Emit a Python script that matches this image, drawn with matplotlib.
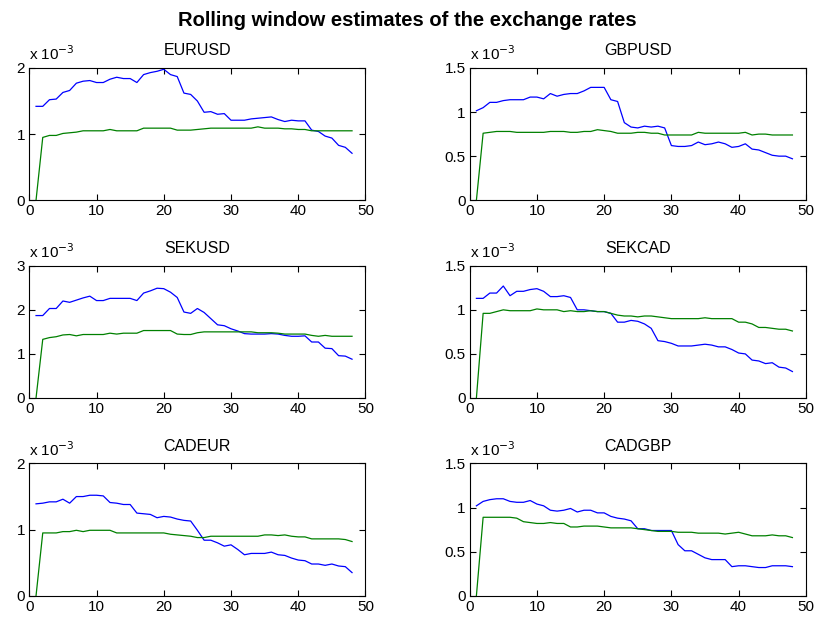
import numpy as np
import matplotlib
matplotlib.use("Agg")
import matplotlib.pyplot as plt
from matplotlib.ticker import FuncFormatter

plt.rcParams["font.family"] = ["Liberation Sans", "DejaVu Sans"]

# window index
x = np.arange(1, 49)

titles = ["EURUSD", "GBPUSD", "SEKUSD", "SEKCAD", "CADEUR", "CADGBP"]
ylims = [2.0, 1.5, 3.0, 1.5, 2.0, 1.5]
yticks = [[0, 1, 2], [0, 0.5, 1, 1.5], [0, 1, 2, 3],
          [0, 0.5, 1, 1.5], [0, 1, 2], [0, 0.5, 1, 1.5]]

# values in units of 1e-3
eurusd_blue = [1.42, 1.42, 1.52, 1.53, 1.63, 1.66, 1.77, 1.80, 1.81, 1.78,
               1.78, 1.83, 1.86, 1.84, 1.84, 1.78, 1.90, 1.93, 1.95, 1.98,
               1.90, 1.87, 1.62, 1.60, 1.50, 1.33, 1.34, 1.30, 1.31, 1.21,
               1.21, 1.21, 1.23, 1.24, 1.25, 1.26, 1.22, 1.19, 1.21, 1.20,
               1.20, 1.06, 1.04, 0.97, 0.94, 0.83, 0.80, 0.71]
eurusd_green = [0.00, 0.95, 0.98, 0.98, 1.01, 1.02, 1.03, 1.05, 1.05, 1.05,
                1.05, 1.07, 1.05, 1.05, 1.05, 1.05, 1.09, 1.09, 1.09, 1.09,
                1.09, 1.06, 1.06, 1.06, 1.07, 1.08, 1.09, 1.09, 1.09, 1.09,
                1.09, 1.09, 1.09, 1.11, 1.09, 1.09, 1.09, 1.08, 1.08, 1.07,
                1.07, 1.05, 1.05, 1.05, 1.05, 1.05, 1.05, 1.05]

gbpusd_blue = [1.015, 1.05, 1.11, 1.11, 1.13, 1.14, 1.14, 1.14, 1.17, 1.17,
               1.15, 1.21, 1.18, 1.20, 1.21, 1.21, 1.24, 1.28, 1.28, 1.28,
               1.14, 1.12, 0.88, 0.83, 0.82, 0.84, 0.83, 0.84, 0.82, 0.62,
               0.61, 0.61, 0.62, 0.66, 0.63, 0.64, 0.66, 0.64, 0.60, 0.61,
               0.64, 0.58, 0.57, 0.54, 0.51, 0.50, 0.50, 0.47]
gbpusd_green = [0.00, 0.76, 0.77, 0.78, 0.78, 0.78, 0.77, 0.77, 0.77, 0.77,
                0.77, 0.78, 0.78, 0.78, 0.77, 0.77, 0.78, 0.78, 0.80, 0.79,
                0.78, 0.76, 0.76, 0.76, 0.77, 0.77, 0.76, 0.76, 0.74, 0.74,
                0.74, 0.74, 0.74, 0.77, 0.76, 0.76, 0.76, 0.76, 0.76, 0.76,
                0.77, 0.74, 0.75, 0.75, 0.74, 0.74, 0.74, 0.74]

sekusd_blue = [1.87, 1.87, 2.03, 2.03, 2.20, 2.17, 2.22, 2.27, 2.31, 2.21,
               2.21, 2.26, 2.26, 2.26, 2.26, 2.21, 2.38, 2.43, 2.49, 2.48,
               2.40, 2.28, 1.95, 1.92, 2.03, 1.94, 1.80, 1.66, 1.64, 1.57,
               1.52, 1.46, 1.45, 1.45, 1.45, 1.46, 1.45, 1.42, 1.40, 1.40,
               1.41, 1.27, 1.27, 1.13, 1.12, 0.96, 0.95, 0.88]
sekusd_green = [0.00, 1.33, 1.37, 1.39, 1.43, 1.44, 1.41, 1.44, 1.44, 1.44,
                1.44, 1.47, 1.45, 1.47, 1.47, 1.47, 1.53, 1.53, 1.53, 1.53,
                1.53, 1.45, 1.44, 1.44, 1.48, 1.50, 1.50, 1.50, 1.50, 1.50,
                1.50, 1.50, 1.50, 1.48, 1.48, 1.48, 1.47, 1.45, 1.45, 1.45,
                1.45, 1.42, 1.40, 1.42, 1.40, 1.40, 1.40, 1.40]

sekcad_blue = [1.13, 1.13, 1.19, 1.19, 1.27, 1.16, 1.21, 1.21, 1.23, 1.24,
               1.21, 1.15, 1.15, 1.16, 1.14, 1.00, 1.00, 0.99, 0.98, 0.98,
               0.96, 0.86, 0.86, 0.88, 0.87, 0.84, 0.79, 0.65, 0.64, 0.62,
               0.59, 0.59, 0.59, 0.60, 0.61, 0.60, 0.58, 0.58, 0.55, 0.51,
               0.50, 0.43, 0.42, 0.39, 0.40, 0.35, 0.34, 0.30]
sekcad_green = [0.00, 0.96, 0.96, 0.98, 1.00, 0.99, 0.99, 0.99, 0.99, 1.01,
                1.00, 1.00, 1.00, 0.98, 0.99, 0.98, 0.98, 0.99, 0.98, 0.98,
                0.96, 0.94, 0.93, 0.93, 0.92, 0.93, 0.93, 0.92, 0.91, 0.90,
                0.90, 0.90, 0.90, 0.90, 0.91, 0.90, 0.90, 0.90, 0.90, 0.86,
                0.86, 0.84, 0.80, 0.80, 0.79, 0.78, 0.78, 0.76]

cadeur_blue = [1.39, 1.40, 1.42, 1.42, 1.46, 1.40, 1.50, 1.50, 1.52, 1.52,
               1.51, 1.41, 1.40, 1.38, 1.38, 1.25, 1.24, 1.23, 1.18, 1.20,
               1.19, 1.16, 1.14, 1.13, 0.99, 0.84, 0.84, 0.80, 0.75, 0.77,
               0.70, 0.62, 0.64, 0.64, 0.64, 0.66, 0.62, 0.61, 0.57, 0.54,
               0.53, 0.48, 0.48, 0.46, 0.48, 0.45, 0.44, 0.35]
cadeur_green = [0.00, 0.95, 0.95, 0.95, 0.97, 0.97, 0.99, 0.97, 0.99, 0.99,
                0.99, 0.99, 0.95, 0.95, 0.95, 0.95, 0.95, 0.95, 0.95, 0.95,
                0.93, 0.92, 0.91, 0.90, 0.88, 0.88, 0.90, 0.90, 0.90, 0.90,
                0.90, 0.90, 0.90, 0.90, 0.92, 0.92, 0.91, 0.92, 0.90, 0.89,
                0.89, 0.86, 0.86, 0.86, 0.86, 0.86, 0.85, 0.82]

cadgbp_blue = [1.02, 1.07, 1.09, 1.10, 1.10, 1.07, 1.06, 1.06, 1.08, 1.04,
               1.02, 0.97, 0.96, 0.97, 0.99, 0.95, 0.97, 0.97, 0.94, 0.94,
               0.90, 0.88, 0.87, 0.85, 0.76, 0.76, 0.74, 0.74, 0.74, 0.74,
               0.58, 0.51, 0.51, 0.47, 0.43, 0.41, 0.41, 0.41, 0.33, 0.34,
               0.34, 0.33, 0.32, 0.32, 0.34, 0.34, 0.34, 0.33]
cadgbp_green = [0.00, 0.89, 0.89, 0.89, 0.89, 0.89, 0.88, 0.84, 0.83, 0.82,
                0.82, 0.83, 0.82, 0.82, 0.78, 0.78, 0.79, 0.79, 0.79, 0.78,
                0.77, 0.77, 0.77, 0.77, 0.76, 0.75, 0.74, 0.73, 0.73, 0.73,
                0.72, 0.72, 0.72, 0.71, 0.71, 0.71, 0.71, 0.70, 0.71, 0.72,
                0.70, 0.68, 0.68, 0.68, 0.69, 0.68, 0.68, 0.66]

blues = [eurusd_blue, gbpusd_blue, sekusd_blue, sekcad_blue, cadeur_blue, cadgbp_blue]
greens = [eurusd_green, gbpusd_green, sekusd_green, sekcad_green, cadeur_green, cadgbp_green]

fig = plt.figure(figsize=(8.14, 6.18), dpi=100)
fig.suptitle("Rolling window estimates of the exchange rates",
             fontsize=14.5, fontweight="bold", y=0.982)

lefts = [0.036, 0.577]
bottoms = [0.676, 0.356, 0.036]
w, h = 0.413, 0.214

scale = FuncFormatter(lambda v, p: "%g" % round(v * 1e3, 6))

for i in range(6):
    ax = fig.add_axes([lefts[i % 2], bottoms[i // 2], w, h])
    ax.plot(x, np.array(blues[i]) * 1e-3, color="#0000ff", lw=0.9)
    ax.plot(x, np.array(greens[i]) * 1e-3, color="#008000", lw=0.9)
    ax.set_xlim(0, 50)
    ax.set_ylim(0, ylims[i] * 1e-3)
    ax.set_xticks([0, 10, 20, 30, 40, 50])
    ax.set_yticks(np.array(yticks[i]) * 1e-3)
    ax.yaxis.set_major_formatter(scale)
    ax.tick_params(direction="in", length=4, width=0.8, top=True, right=True,
                   labelsize=11, pad=3)
    for s in ax.spines.values():
        s.set_linewidth(0.8)
    ax.set_title(titles[i], fontsize=11.5, pad=9)
    ax.text(0.0, 1.035, r"x 10$^{-3}$", transform=ax.transAxes,
            fontsize=11, ha="left", va="bottom")

fig.savefig("out.png", dpi=100)
